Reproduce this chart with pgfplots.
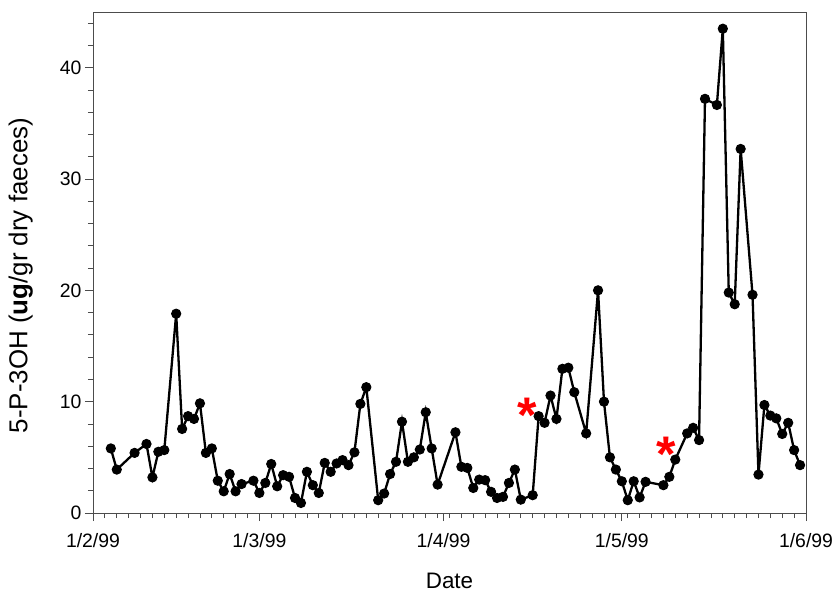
\documentclass[border=0pt]{standalone}
\usepackage{pgfplots}
\pgfplotsset{compat=1.18}
\usepackage{fontspec}
\setmainfont{Liberation Sans}
\pgfplotstableread{
d v
3 5.8
4 3.9
7 5.4
9 6.2
10 3.2
11 5.5
12 5.65
14 17.9
15 7.55
16 8.7
17 8.45
18 9.85
19 5.4
20 5.8
21 2.9
22 1.95
23 3.5
24 1.95
25 2.6
27 2.9
28 1.8
29 2.7
30 4.4
31 2.4
32 3.4
33 3.25
34 1.35
35 0.9
36 3.7
37 2.5
38 1.8
39 4.5
40 3.7
41 4.45
42 4.75
43 4.3
44 5.45
45 9.8
46 11.3
48 1.15
49 1.75
50 3.5
51 4.6
52 8.2
53 4.6
54 5.0
55 5.7
56 9.05
57 5.8
58 2.55
61 7.25
62 4.15
63 4.05
64 2.25
65 3.0
66 2.95
67 1.9
68 1.35
69 1.45
70 2.7
71 3.9
72 1.2
74 1.6
75 8.7
76 8.1
77 10.55
78 8.45
79 12.95
80 13.05
81 10.85
83 7.15
85 20.0
86 10.0
87 5.0
88 3.9
89 2.85
90 1.15
91 2.85
92 1.4
93 2.8
96 2.5
97 3.25
98 4.8
100 7.15
101 7.65
102 6.55
103 37.2
105 36.65
106 43.5
107 19.8
108 18.75
109 32.7
111 19.6
112 3.45
113 9.7
114 8.75
115 8.5
116 7.1
117 8.1
118 5.65
119 4.3
}\datatable
\begin{document}
\begin{tikzpicture}
\useasboundingbox (-93pt,-82pt) rectangle (742pt,513pt);
\begin{axis}[
  scale only axis, width=713pt, height=501pt,
  at={(0,0)}, anchor=south west,
  xmin=0, xmax=120, ymin=0, ymax=45,
  axis line style={line width=0.8pt, draw=black!70},
  tick align=outside, tick pos=left,
  xtick={0,28,59,89,120},
  xticklabels={1/2/99,1/3/99,1/4/99,1/5/99,1/6/99},
  minor xtick={0,2,...,120},
  ytick={0,10,...,40}, minor ytick={0,2,...,44},
  major tick length=8pt, minor tick length=5pt,
  every tick/.style={line width=0.8pt, black!70},
  tick label style={font=\fontsize{19.4}{22}\selectfont},
  xticklabel style={yshift=-9pt},
  /pgf/number format/assume math mode=true,
  clip=false,
]
\addplot[black, line width=2.3pt, mark=*, mark size=4.6pt, mark options={line width=1pt}] table[x=d, y=v] {\datatable};
\node[text=red, font=\fontsize{50}{50}\selectfont\bfseries, anchor=base, yshift=-23pt] at (axis cs:73.0,9.32) {*};
\node[text=red, font=\fontsize{50}{50}\selectfont\bfseries, anchor=base, yshift=-23pt] at (axis cs:96.5,5.8) {*};
\end{axis}
\node[font=\fontsize{22.4}{26}\selectfont] at (356.5pt,-68pt) {Date};
\node[rotate=90, anchor=base, font=\fontsize{25.9}{30}\selectfont] at (-65.5pt,237.5pt) {5-P-3OH (\textbf{ug}/gr dry faeces)};
\end{tikzpicture}
\end{document}
